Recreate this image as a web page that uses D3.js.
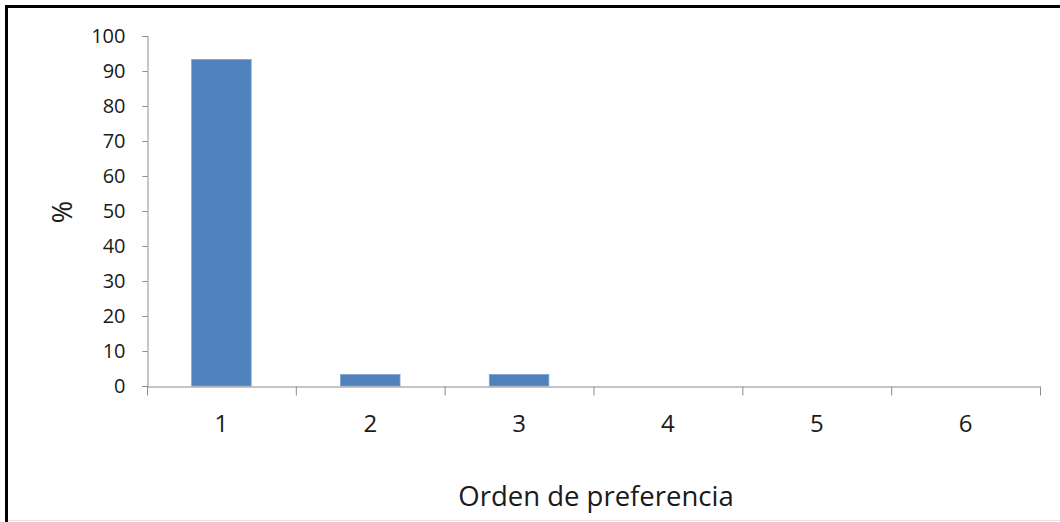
<!DOCTYPE html>
<html><head><meta charset="utf-8">
<script src="https://cdn.jsdelivr.net/npm/d3@7"></script>
<style>body{margin:0;background:#fff;}svg{display:block;}</style>
</head><body>
<script>
const categories = ["1","2","3","4","5","6"];
const values = [93.3, 3.3, 3.3, 0, 0, 0];
const yTicks = [0,10,20,30,40,50,60,70,80,90,100];
const xTitle = "Orden de preferencia";
const yTitle = "%";

(function(){
const W = 1060, H = 522;
const svg = d3.select("body").append("svg").attr("width", W).attr("height", H);
svg.append("rect").attr("x",0).attr("y",0).attr("width",W).attr("height",H).attr("fill","#fff");
// frame: top and left black, bottom light gray
svg.append("line").attr("x1",5).attr("x2",W).attr("y1",6.5).attr("y2",6.5).attr("stroke","#000").attr("stroke-width",3);
svg.append("line").attr("x1",6.5).attr("x2",6.5).attr("y1",5).attr("y2",H).attr("stroke","#000").attr("stroke-width",3);
svg.append("line").attr("x1",8).attr("x2",W).attr("y1",520.5).attr("y2",520.5).attr("stroke","#e4e4e4").attr("stroke-width",1);

const mLeft = 147, mRight = 1040, mTop = 36, mBottom = 386;
const x = d3.scaleBand().domain(categories).range([mLeft, mRight]).paddingInner(0.6).paddingOuter(0.3);
const xb = d3.scaleBand().domain(categories).range([mLeft, mRight]);
const y = d3.scaleLinear().domain([0,100]).range([mBottom, mTop]);
const font = "'Open Sans', sans-serif";

svg.selectAll("rect.bar").data(values).join("rect").attr("class","bar")
  .attr("x",(d,i)=>x(categories[i])).attr("width",x.bandwidth())
  .attr("y",d=>y(d)).attr("height",d=>y(0)-y(d))
  .attr("fill","#4F81BD").attr("stroke","#7ea3d1").attr("stroke-width",d=>d>0?0.8:0);

const axisColor = "#8c8c8c";
const yAxis = svg.append("g").attr("transform",`translate(${mLeft+0.5},0)`)
  .call(d3.axisLeft(y).tickValues(yTicks).tickSize(5).tickPadding(17));
yAxis.select(".domain").attr("stroke",axisColor);
yAxis.selectAll(".tick line").attr("stroke",axisColor);
yAxis.selectAll("text").attr("font-family",font).attr("font-size",20).attr("fill","#1a1a1a");

const xAxis = svg.append("g").attr("transform",`translate(0,${mBottom+0.5})`)
  .call(d3.axisBottom(xb).tickSize(0).tickPadding(28));
xAxis.select(".domain").attr("stroke",axisColor);
xAxis.selectAll("text").attr("font-family",font).attr("font-size",24).attr("fill","#1a1a1a");
const bounds = categories.map(c=>xb(c)).concat([mRight]);
xAxis.selectAll("line.bt").data(bounds).join("line").attr("class","bt")
  .attr("x1",d=>d+0.5).attr("x2",d=>d+0.5).attr("y1",0).attr("y2",9).attr("stroke",axisColor);

svg.append("text").attr("x",596).attr("y",506).attr("text-anchor","middle")
  .attr("font-family",font).attr("font-size",27.5).attr("fill","#1a1a1a").text(xTitle);
svg.append("text").attr("transform","translate(72,212) rotate(-90)").attr("text-anchor","middle")
  .attr("font-family",font).attr("font-size",27).attr("fill","#1a1a1a").text(yTitle);
})();
</script>
</body></html>
